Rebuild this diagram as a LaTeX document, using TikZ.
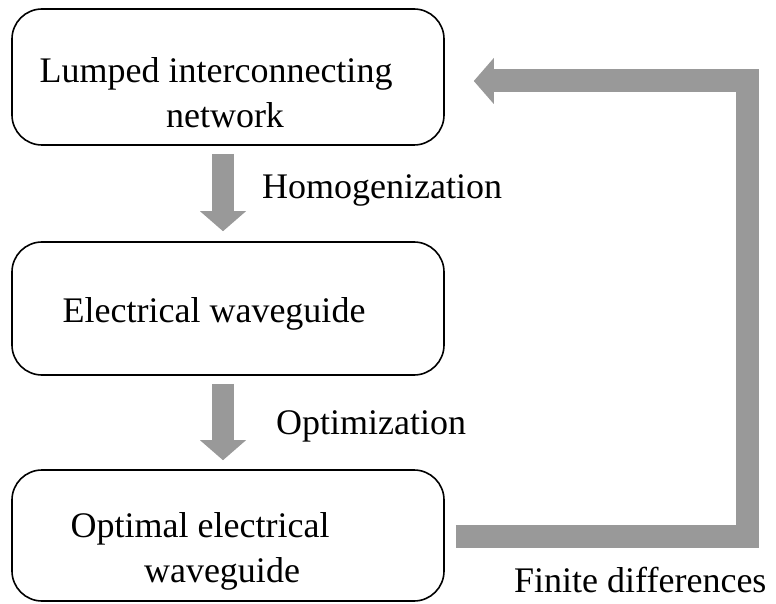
\documentclass[tikz,border=0pt]{standalone}
\usepackage{fontspec}
\setmainfont{Liberation Serif}
\usetikzlibrary{calc}
\definecolor{fatgray}{gray}{0.6}
\begin{document}
\begin{tikzpicture}[x=1pt,y=-1pt,
  box/.style={draw=black, line width=1.6pt, rounded corners=30pt, minimum width=432pt, inner sep=0pt},
  txt/.style={font=\fontsize{36}{42}\selectfont, inner sep=0pt, anchor=base},
  lbl/.style={font=\fontsize{36}{42}\selectfont, inner sep=0pt, anchor=base west},
  shaft/.style={draw=fatgray, line width=22pt},
  head/.style={fill=fatgray}
]
\useasboundingbox (0,0) rectangle (776,604);

% boxes
\node[box, minimum height=136pt] (top) at (228,77) {};
\node[box, minimum height=133pt] (mid) at (228,308.5) {};
\node[box, minimum height=131pt] (bot) at (228,535.5) {};

% box texts
\node[txt] (t1) at (216,83) {Lumped interconnecting};
\node[txt] (t2) at (225,128) {network};
\node[txt] (m1) at (214,322) {Electrical waveguide};
\node[txt] (b1) at (200,537) {Optimal electrical};
\node[txt] (b2) at (222,582) {waveguide};

% down arrows
\coordinate (a1s) at ($(top.south)+(-5,8)$);
\coordinate (a1t) at ($(mid.north)+(-5,-10)$);
\draw[shaft] (a1s) -- ($(a1t)+(0,-19)$);
\fill[head] (a1t) -- ($(a1t)+(-23,-20)$) -- ($(a1t)+(23,-20)$) -- cycle;

\coordinate (a2s) at ($(mid.south)+(-5,8)$);
\coordinate (a2t) at ($(bot.north)+(-5,-9)$);
\draw[shaft] (a2s) -- ($(a2t)+(0,-19)$);
\fill[head] (a2t) -- ($(a2t)+(-23,-20)$) -- ($(a2t)+(23,-20)$) -- cycle;

% feedback arrow
\coordinate (fbs) at ($(bot.east)+(11,1)$);
\coordinate (fbc) at (747.5,81);
\coordinate (fbt) at ($(top.east)+(29,4)$);
\draw[shaft, line width=23pt] (fbs) -| (fbc) -- ($(fbt)+(19,0)$);
\fill[head] (fbt) -- ($(fbt)+(20,-23)$) -- ($(fbt)+(20,23)$) -- cycle;

% labels
\node[lbl] (hom) at (262,199) {Homogenization};
\node[lbl] (opt) at (276,434) {Optimization};
\node[lbl] (fin) at (514,592) {Finite differences};
\end{tikzpicture}
\end{document}
